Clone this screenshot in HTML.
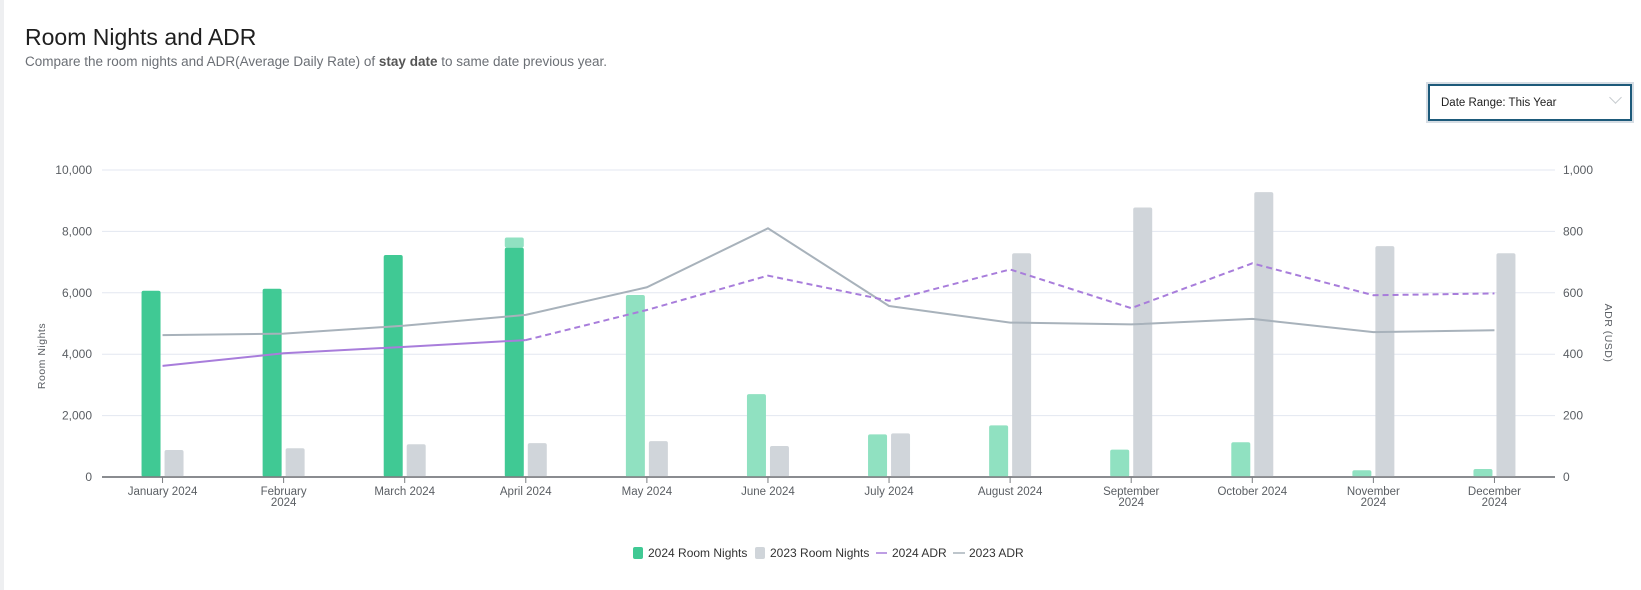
<!DOCTYPE html>
<html><head><meta charset="utf-8"><style>
html,body{margin:0;padding:0;background:#fff;width:1641px;height:590px;overflow:hidden;font-family:"Liberation Sans",sans-serif;}
#edge{position:absolute;left:0;top:0;width:4px;height:590px;background:#eeeff1;}
#title{position:absolute;left:25px;top:24px;font-size:23px;color:#1f1f1f;}
#sub{position:absolute;left:25px;top:54px;font-size:13.5px;color:#6b6f75;}
#dd{position:absolute;left:1428px;top:84px;width:204px;height:37px;border:2px solid #1d5a7a;box-shadow:0 0 0 2px #d6dde4;box-sizing:border-box;font-size:11.5px;color:#222;}
#dd span{position:absolute;left:11px;top:11px;}
#dd i{position:absolute;right:10px;top:7px;width:8px;height:8px;border-right:1px solid #c8ccd0;border-bottom:1px solid #c8ccd0;transform:rotate(45deg);}
svg{position:absolute;left:0;top:0;}
</style></head><body>
<div id="edge"></div>
<div id="title">Room Nights and ADR</div>
<div id="sub">Compare the room nights and ADR(Average Daily Rate) of <b style="color:#555">stay date</b> to same date previous year.</div>
<div id="dd"><span>Date Range: This Year</span><i></i></div>
<svg id="chart" width="1641" height="590"></svg>
<script>
const categories=["January 2024","February 2024","March 2024","April 2024","May 2024","June 2024","July 2024","August 2024","September 2024","October 2024","November 2024","December 2024"];
const labelLines=[["January 2024"],["February","2024"],["March 2024"],["April 2024"],["May 2024"],["June 2024"],["July 2024"],["August 2024"],["September","2024"],["October 2024"],["November","2024"],["December","2024"]];
const rn2024Actual=[6068,6130,7230,7470,0,0,0,0,0,0,0,0];
const rn2024Otb=[0,0,0,330,5930,2700,1390,1680,890,1130,220,260];
const rn2023=[880,935,1065,1105,1170,1010,1420,7290,8780,9280,7520,7290];
const adr2024=[362,403,424,446,544,656,574,676,550,696,592,598];
const adr2023=[462,467,493,528,618,810,557,503,497,515,472,478];
const leftTicks=[0,2000,4000,6000,8000,10000];
const rightTicks=[0,200,400,600,800,1000];
const actualMonths=4;

const NS="http://www.w3.org/2000/svg";
const svg=document.getElementById('chart');
const X0=102,X1=1555,Y0=477,Y1=170;
const band=(X1-X0)/categories.length;
const xc=i=>X0+band*(i+0.5);
const yL=v=>Y0-(Y0-Y1)*v/10000;
const yR=v=>Y0-(Y0-Y1)*v/1000;
function mk(t,a,p){const e=document.createElementNS(NS,t);for(const k in a)e.setAttribute(k,a[k]);(p||svg).appendChild(e);return e;}
function txt(x,y,s,a){const e=mk('text',Object.assign({x:x,y:y,'font-size':12,fill:'#5a5e63','font-family':'Liberation Sans, sans-serif'},a||{}));e.textContent=s;return e;}

leftTicks.forEach((v,i)=>{
  const g=mk('line',{x1:X0,x2:X1,y1:yL(v),y2:yL(v),stroke:v===0?'#7a7d80':'#e3e7f0','stroke-width':v===0?1.5:1});
  
  
  const t=txt(92,yL(v)+4,v.toLocaleString('en-US'),{'text-anchor':'end'});
  
  
});
rightTicks.forEach(v=>{
  const t=txt(1563,yR(v)+4,v.toLocaleString('en-US'));
  
  
});
const yt=txt(0,0,'Room Nights',{transform:'translate(45,356) rotate(-90)','text-anchor':'middle','font-size':10.5,'letter-spacing':'0.5'});


const yt2=txt(0,0,'ADR (USD)',{transform:'translate(1605,333) rotate(90)','text-anchor':'middle','font-size':10.5,'letter-spacing':'0.5'});



categories.forEach((c,i)=>{
  const x=xc(i);
  const tk=mk('line',{x1:x,x2:x,y1:Y0,y2:Y0+6,stroke:'#7a7d80'});
  
  
  labelLines[i].forEach((s,j)=>{
    const t=txt(x,Y0+18+j*11,s,{'text-anchor':'middle','font-size':11.5});
    
    
  });
  const bw=19;
  const gx=x-21;
  const a=rn2024Actual[i],o=rn2024Otb[i];
  if(a>0){const r=mk('rect',{x:gx,y:yL(a),width:bw,height:Y0-yL(a),fill:'#40c994',rx:2});
    
    }
  if(o>0){const r=mk('rect',{x:gx,y:yL(a+o),width:bw,height:yL(a)-yL(a+o),fill:'#90e1c1',rx:2});
    
    }
  const b=rn2023[i];
  const r2=mk('rect',{x:x+2,y:yL(b),width:bw,height:Y0-yL(b),fill:'#d0d5da',rx:2});
  
  
});
mk('line',{x1:X0,x2:X1,y1:Y0,y2:Y0,stroke:'#7a7d80','stroke-width':1.5});

const p23=adr2023.map((v,i)=>xc(i)+','+yR(v)).join(' ');
const l23=mk('polyline',{points:p23,fill:'none',stroke:'#a8b2bb','stroke-width':2});


const pa=adr2024.slice(0,actualMonths).map((v,i)=>xc(i)+','+yR(v)).join(' ');
const la=mk('polyline',{points:pa,fill:'none',stroke:'#a87ddb','stroke-width':2});


const pd=adr2024.map((v,i)=>[i,v]).slice(actualMonths-1).map(([i,v])=>xc(i)+','+yR(v)).join(' ');
const ld=mk('polyline',{points:pd,fill:'none',stroke:'#a87ddb','stroke-width':2,'stroke-dasharray':'6,4'});



const LY=553;
const lg1=mk('rect',{x:633,y:LY-6,width:10,height:12,rx:2,fill:'#40c994'});


txt(648,LY+4,'2024 Room Nights',{'font-size':12,fill:'#333'});
const lg2=mk('rect',{x:755,y:LY-6,width:10,height:12,rx:2,fill:'#d0d5da'});


txt(770,LY+4,'2023 Room Nights',{'font-size':12,fill:'#333'});
const lg3=mk('line',{x1:876,x2:887,y1:LY,y2:LY,stroke:'#a87ddb','stroke-width':1.5});


txt(892,LY+4,'2024 ADR',{'font-size':12,fill:'#333'});
const lg4=mk('line',{x1:953,x2:965,y1:LY,y2:LY,stroke:'#a8b2bb','stroke-width':1.5});


txt(969,LY+4,'2023 ADR',{'font-size':12,fill:'#333'});
</script>
</body></html>
